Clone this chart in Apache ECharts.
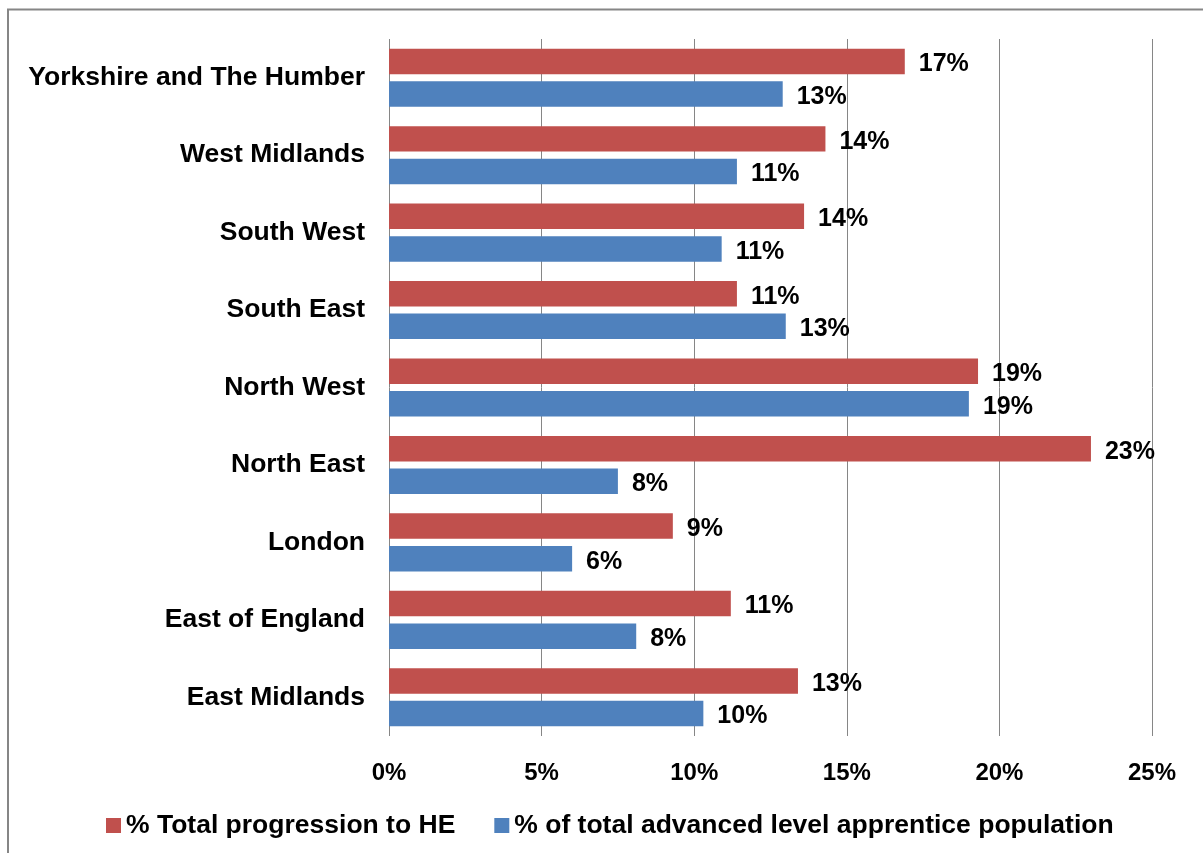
<!DOCTYPE html>
<html>
<head>
<meta charset="utf-8">
<script src="https://cdn.jsdelivr.net/npm/echarts@6/dist/echarts.min.js"></script>
<style>
  html, body { margin: 0; padding: 0; background: #fff; }
  #chart { width: 1203px; height: 853px; }
</style>
</head>
<body>
<div id="chart"></div>
<script>
  // regions, top to bottom
  const regions = ['Yorkshire and The Humber', 'West Midlands', 'South West', 'South East',
    'North West', 'North East', 'London', 'East of England', 'East Midlands']
  // % Total progression to HE
  const progressionHE = [16.9, 14.3, 13.6, 11.4, 19.3, 23.0, 9.3, 11.2, 13.4]
  // % of total advanced level apprentice population
  const apprenticePop = [12.9, 11.4, 10.9, 13.0, 19.0, 7.5, 6.0, 8.1, 10.3]

  const font = 'Arial, "Liberation Sans", sans-serif'
  const myChart = echarts.init(document.getElementById('chart'))

  const labelStyle = {
    show: true,
    position: 'right',
    distance: 14,
    offset: [0, 3],
    color: '#000',
    fontFamily: font,
    fontWeight: 'bold',
    fontSize: 25,
    formatter: p => Math.round(p.value) + '%'
  }

  const option = {
    animation: false,
    backgroundColor: '#fff',
    graphic: [{
      type: 'rect',
      shape: { x: 8, y: 9.5, width: 1260, height: 900 },
      style: { fill: 'none', stroke: '#868686', lineWidth: 2 }
    }],
    grid: { left: 389, right: 51, top: 39, bottom: 117 },
    legend: {
      left: 101,
      top: 807,
      icon: 'rect',
      itemWidth: 15,
      itemHeight: 15,
      itemGap: 39,
      textStyle: { fontFamily: font, fontWeight: 'bold', fontSize: 26.5, color: '#000' },
      data: ['% Total progression to HE', '% of total advanced level apprentice population']
    },
    xAxis: {
      type: 'value',
      min: 0,
      max: 25,
      interval: 5,
      axisLine: { show: false },
      axisTick: { show: false },
      axisLabel: {
        formatter: '{value}%',
        margin: 25,
        color: '#000',
        fontFamily: font,
        fontWeight: 'bold',
        fontSize: 24
      },
      splitLine: { show: true, lineStyle: { color: '#868686', width: 1 } }
    },
    yAxis: {
      type: 'category',
      inverse: true,
      data: regions,
      axisLine: { show: false },
      axisTick: { show: false },
      axisLabel: {
        margin: 24,
        padding: [4, 0, 0, 0],
        color: '#000',
        fontFamily: font,
        fontWeight: 'bold',
        fontSize: 26.5
      }
    },
    series: [
      {
        name: '% Total progression to HE',
        type: 'bar',
        barCategoryGap: '25%',
        barGap: '28%',
        itemStyle: { color: '#C0504D' },
        label: labelStyle,
        data: progressionHE
      },
      {
        name: '% of total advanced level apprentice population',
        type: 'bar',
        barCategoryGap: '25%',
        barGap: '28%',
        itemStyle: { color: '#4F81BD' },
        label: labelStyle,
        data: apprenticePop
      }
    ]
  }
  myChart.setOption(option)
</script>
</body>
</html>
